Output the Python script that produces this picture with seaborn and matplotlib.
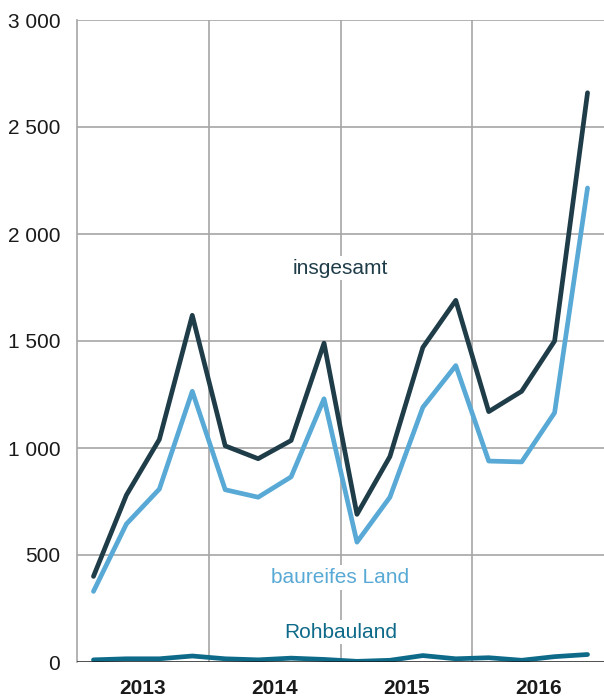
import matplotlib
matplotlib.use("Agg")
import matplotlib.pyplot as plt
import matplotlib.transforms as mtransforms
import pandas as pd
import seaborn as sns

years = ["2013", "2014", "2015", "2016"]
quarters = ["Q1", "Q2", "Q3", "Q4"]

insgesamt = [400, 780, 1040, 1620, 1010, 950, 1035, 1490,
             690, 960, 1470, 1690, 1170, 1265, 1500, 2660]
baureifes_land = [330, 645, 808, 1265, 805, 770, 865, 1230,
                  560, 770, 1190, 1385, 939, 935, 1165, 2215]
rohbauland = [10, 15, 15, 28, 15, 10, 18, 12,
              3, 8, 30, 15, 20, 8, 25, 35]

series_names = ["insgesamt", "baureifes Land", "Rohbauland"]
colors = {"insgesamt": "#1f3c49", "baureifes Land": "#58a9d5", "Rohbauland": "#0e6a89"}

rows = []
for name, vals in zip(series_names, [insgesamt, baureifes_land, rohbauland]):
    for i, v in enumerate(vals):
        rows.append({"pos": i + 0.5, "wert": v, "reihe": name})
df = pd.DataFrame(rows)

sns.set_style("white")
plt.rcParams["font.family"] = ["Liberation Sans", "DejaVu Sans"]

fig = plt.figure(figsize=(6.04, 6.98), dpi=100)
ax = fig.add_axes([77 / 604, 36 / 698, 1 - 77 / 604, 642 / 698])

# Gitterlinien
for y in range(500, 3001, 500):
    ax.axhline(y, color="#a6a6a6", lw=1.2, zorder=0)

sns.lineplot(data=df, x="pos", y="wert", hue="reihe", palette=colors,
             hue_order=["Rohbauland", "baureifes Land", "insgesamt"],
             lw=3.4, legend=False, ax=ax, zorder=3)

ax.axhline(0, color="#1a1a1a", lw=1.8, zorder=4)

ax.set_xlim(0, 16)
ax.set_ylim(0, 3000)
ax.set_xlabel("")
ax.set_ylabel("")

for s in ["top", "right", "bottom"]:
    ax.spines[s].set_visible(False)
ax.spines["left"].set_color("#a6a6a6")
ax.spines["left"].set_linewidth(1.2)

ax.set_yticks(range(0, 3001, 500))
ax.set_yticklabels([f"{v:,}".replace(",", " ") for v in range(0, 3001, 500)],
                   fontsize=15, color="#1a1a1a")
ax.tick_params(axis="y", length=7, width=1.2, color="#a6a6a6", pad=5)

# Jahresgrenzen als lange Ticks, Quartale als kurze
ax.set_xticks([4, 8, 12])
ax.set_xticklabels([])
ax.set_xticks(range(0, 17), minor=True)
ax.tick_params(axis="x", which="major", length=27, width=1.2, color="#a6a6a6")
ax.tick_params(axis="x", which="minor", length=5, width=1.2, color="#a6a6a6")
for x in [4, 8, 12]:
    ax.axvline(x, color="#a6a6a6", lw=1.2, zorder=0)

trans = mtransforms.blended_transform_factory(ax.transData, ax.transAxes)
for i, yr in enumerate(years):
    ax.text(i * 4 + 2, -0.041, yr, transform=trans, ha="center", va="center",
            fontsize=15, fontweight="bold", color="#1a1a1a")

ax.text(8, 1840, "insgesamt", ha="center", va="center", fontsize=15,
        color=colors["insgesamt"],
        bbox=dict(facecolor="white", edgecolor="none", pad=2), zorder=5)
ax.text(8, 395, "baureifes Land", ha="center", va="center", fontsize=15,
        color=colors["baureifes Land"],
        bbox=dict(facecolor="white", edgecolor="none", pad=2), zorder=5)
ax.text(8, 140, "Rohbauland", ha="center", va="center", fontsize=15,
        color=colors["Rohbauland"],
        bbox=dict(facecolor="white", edgecolor="none", pad=2), zorder=5)

fig.savefig("out.png", dpi=100)
